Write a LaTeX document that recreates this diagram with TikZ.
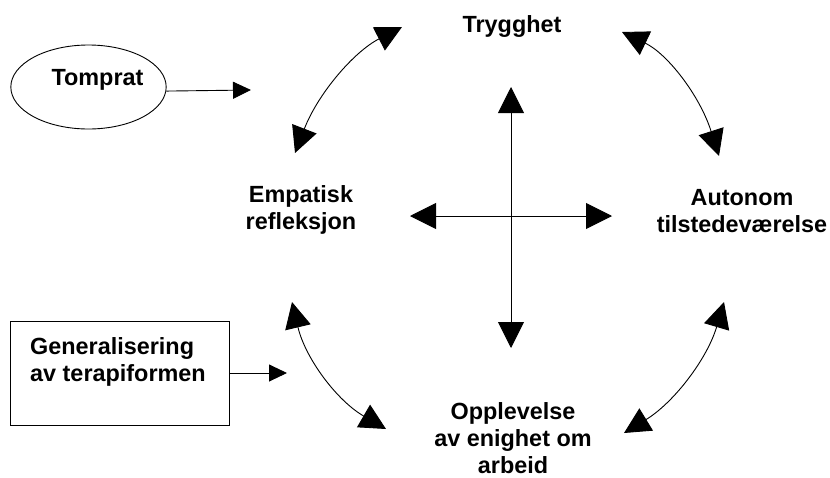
\documentclass[tikz,border=0pt]{standalone}
\usepackage{fontspec}
\setmainfont{Liberation Sans}
\usetikzlibrary{arrows.meta,shapes.geometric}
\begin{document}
\begin{tikzpicture}[x=1pt,y=-1pt,
  lbl/.style={font=\fontsize{23.4}{27}\selectfont\bfseries, align=center, inner sep=0pt},
  conn/.style={line width=0.9pt, {Triangle[length=26pt,width=26pt]}-{Triangle[length=26pt,width=26pt]}},
  feed/.style={line width=0.9pt, -{Triangle[length=18pt,width=17pt]}},
  outline/.style={draw, line width=0.9pt, inner sep=0pt}]
\useasboundingbox (0,0) rectangle (830,477);

% labels (base anchor = baseline of the last line)
\node[lbl, anchor=base] (tryg) at (512,32) {Trygghet};
\node[lbl, anchor=base] (emp) at (301,229) {Empatisk\\refleksjon};
\node[lbl, anchor=base] (aut) at (742,232) {Autonom\\tilstedeværelse};
\node[lbl, anchor=base] (opp) at (513,473) {Opplevelse\\av enighet om\\arbeid};

% Tomprat ellipse
\node[outline, ellipse, minimum width=155pt, minimum height=84pt,
      font=\fontsize{23.4}{27}\selectfont\bfseries, text height=17pt, text depth=20pt] (tom) at (88.5,87) {\hspace*{18pt}Tomprat};
\coordinate (t1) at (251,90);
\draw[feed] (tom.-3) -- (t1);

% Generalisering box
\node[outline, rectangle, minimum width=219pt, minimum height=104pt] (gen) at (119.5,373) {};
\node[lbl, align=left, anchor=base west] (gentxt) at (30,381) {Generalisering\\av terapiformen};
\coordinate (g1) at (287,373);
\draw[feed] (gen.east) -- (g1);

% cross
\coordinate (vt) at (511,87);
\coordinate (vb) at (511,348);
\coordinate (hl) at (410,216);
\coordinate (hr) at (612,216);
\draw[conn] (vb) -- (vt);
\draw[conn] (hl) -- (hr);

% curved double arrows
\coordinate (a1s) at (295,153);
\coordinate (a1e) at (402,27);
\draw[conn] (a1s) .. controls (317.8,94) and (353.5,52) .. (a1e);

\coordinate (a2s) at (622,32);
\coordinate (a2e) at (719,156);
\draw[conn] (a2s) .. controls (667.1,53.6) and (699.5,94.9) .. (a2e);

\coordinate (a3s) at (292,302);
\coordinate (a3e) at (386,429);
\draw[conn] (a3s) .. controls (305.2,357.9) and (336.5,400.3) .. (a3e);

\coordinate (a4s) at (724,302);
\coordinate (a4e) at (624,433);
\draw[conn] (a4s) .. controls (707.1,359.1) and (673.7,402.7) .. (a4e);
\end{tikzpicture}
\end{document}
